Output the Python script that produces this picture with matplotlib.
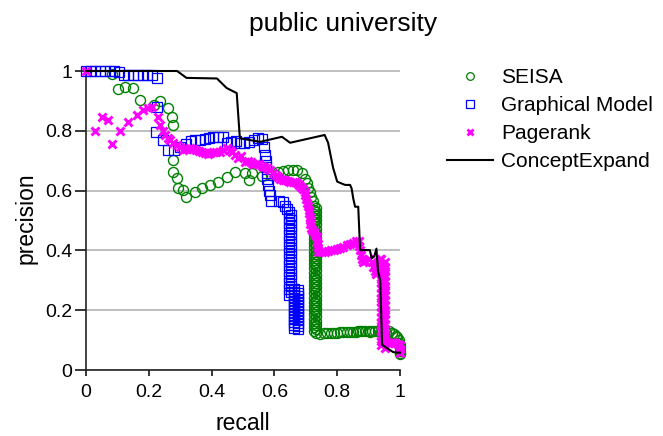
import matplotlib
matplotlib.use("Agg")
import matplotlib.pyplot as plt
from matplotlib.lines import Line2D

plt.rcParams['font.family'] = ['Liberation Sans', 'DejaVu Sans']

# ---------------- data ----------------
seisa_x = [0.082, 0.103, 0.124, 0.151, 0.172, 0.215, 0.236, 0.262, 0.273, 0.278,
           0.278, 0.278, 0.289, 0.294, 0.31, 0.32, 0.347, 0.368, 0.395, 0.421,
           0.448, 0.475, 0.506, 0.52, 0.53, 0.56, 0.59, 0.612, 0.628, 0.643,
           0.658, 0.671, 0.687, 0.698, 0.703, 0.708, 0.713, 0.718, 0.722,
           # dense column
           0.726, 0.731, 0.726, 0.731, 0.726, 0.731, 0.726, 0.731, 0.726, 0.731,
           0.726, 0.731, 0.726, 0.731, 0.726, 0.731, 0.726, 0.731, 0.726, 0.731,
           0.726, 0.731, 0.726, 0.731, 0.726, 0.731, 0.726, 0.731, 0.726, 0.731,
           0.726, 0.731, 0.726, 0.731, 0.726, 0.731, 0.726, 0.731, 0.726, 0.731,
           0.726, 0.731, 0.726, 0.731, 0.726, 0.731, 0.726, 0.731, 0.726, 0.731,
           0.726, 0.731, 0.726, 0.731, 0.726, 0.731, 0.726, 0.731, 0.726, 0.731,
           0.726, 0.731,
           # bottom row
           0.745, 0.757, 0.768, 0.78, 0.79, 0.80, 0.81, 0.82, 0.83, 0.84,
           0.85, 0.86, 0.866, 0.872, 0.88, 0.89, 0.9, 0.906, 0.912, 0.92,
           0.93, 0.94, 0.955, 0.965, 0.975, 0.982, 0.988, 0.992, 0.996, 0.998,
           1.0, 1.0, 1.0, 1.0, 1.0]
seisa_y = [0.99, 0.94, 0.948, 0.942, 0.903, 0.885, 0.898, 0.875, 0.847, 0.82,
           0.702, 0.663, 0.641, 0.608, 0.602, 0.58, 0.596, 0.608, 0.619, 0.63,
           0.647, 0.663, 0.66, 0.635, 0.66, 0.648, 0.652, 0.663, 0.667, 0.668,
           0.669, 0.669, 0.66, 0.64, 0.625, 0.61, 0.595, 0.58, 0.565,
           0.55, 0.543, 0.536, 0.529, 0.522, 0.515, 0.508, 0.501, 0.494, 0.487,
           0.48, 0.473, 0.466, 0.459, 0.452, 0.445, 0.438, 0.431, 0.424, 0.417,
           0.41, 0.403, 0.396, 0.389, 0.382, 0.375, 0.368, 0.361, 0.354, 0.347,
           0.34, 0.333, 0.326, 0.319, 0.312, 0.305, 0.298, 0.291, 0.284, 0.277,
           0.27, 0.263, 0.256, 0.249, 0.242, 0.235, 0.228, 0.221, 0.214, 0.207,
           0.2, 0.193, 0.186, 0.179, 0.172, 0.165, 0.158, 0.151, 0.144, 0.137,
           0.13, 0.124,
           0.122, 0.123, 0.124, 0.124, 0.125, 0.125, 0.126, 0.126, 0.127, 0.127,
           0.128, 0.128, 0.13, 0.129, 0.13, 0.13, 0.13, 0.128, 0.13, 0.13,
           0.13, 0.128, 0.126, 0.13, 0.125, 0.12, 0.115, 0.11, 0.1, 0.09,
           0.085, 0.075, 0.065, 0.058, 0.052]

gm_x = [0.0, 0.015, 0.03, 0.045, 0.06, 0.075, 0.09, 0.105, 0.12, 0.135,
        0.15, 0.165, 0.18, 0.195, 0.21, 0.226, 0.225, 0.222, 0.246, 0.262,
        0.28, 0.30, 0.32, 0.335, 0.347, 0.362, 0.378, 0.392, 0.406, 0.421,
        0.436, 0.448, 0.462, 0.477, 0.49, 0.503, 0.52, 0.535, 0.549, 0.562,
        0.568, 0.57, 0.572, 0.574, 0.576, 0.578, 0.58, 0.583, 0.586, 0.59,
        0.615, 0.628, 0.635, 0.641,
        # upper column
        0.648, 0.652, 0.648, 0.652, 0.648, 0.652, 0.648, 0.652, 0.648, 0.652,
        0.648, 0.652, 0.648, 0.652, 0.648, 0.652, 0.648, 0.652, 0.648, 0.652,
        0.648, 0.652, 0.648, 0.652, 0.648, 0.652, 0.648, 0.652, 0.648,
        # lower column
        0.664, 0.676, 0.664, 0.676, 0.664, 0.676, 0.664, 0.676, 0.664, 0.676,
        0.664, 0.676, 0.664, 0.676, 0.664, 0.676, 0.664, 0.676, 0.664, 0.676,
        0.664, 0.676, 0.664, 0.676, 0.664, 0.676, 0.664, 0.676]
gm_y = [1.0, 1.0, 1.0, 1.0, 1.0, 1.0, 1.0, 0.995, 0.985, 0.985,
        0.985, 0.985, 0.985, 0.985, 0.985, 0.978, 0.88, 0.797, 0.769, 0.736,
        0.735, 0.745, 0.755, 0.765, 0.77, 0.77, 0.772, 0.776, 0.778, 0.78,
        0.778, 0.76, 0.762, 0.765, 0.76, 0.758, 0.764, 0.77, 0.775, 0.772,
        0.745, 0.72, 0.70, 0.68, 0.66, 0.64, 0.62, 0.60, 0.585, 0.565,
        0.565, 0.563, 0.55, 0.54,
        0.53, 0.52, 0.51, 0.50, 0.49, 0.48, 0.47, 0.46, 0.45, 0.44,
        0.43, 0.42, 0.41, 0.40, 0.39, 0.38, 0.37, 0.36, 0.35, 0.34,
        0.33, 0.32, 0.31, 0.30, 0.29, 0.28, 0.27, 0.26, 0.25,
        0.272, 0.267, 0.262, 0.257, 0.252, 0.247, 0.242, 0.237, 0.232, 0.227,
        0.222, 0.217, 0.212, 0.207, 0.202, 0.197, 0.192, 0.187, 0.182, 0.177,
        0.172, 0.167, 0.162, 0.157, 0.152, 0.147, 0.142, 0.138]

pr_x = [0.0, 0.029, 0.05, 0.071, 0.082, 0.108, 0.135, 0.161, 0.183, 0.197,
        0.21, 0.23, 0.236, 0.245, 0.252, 0.26, 0.268, 0.278, 0.289, 0.30,
        0.31, 0.32, 0.33, 0.34, 0.35, 0.36, 0.37, 0.379, 0.388, 0.395,
        0.405, 0.415, 0.427, 0.437, 0.448, 0.458, 0.465, 0.475, 0.485, 0.495,
        0.506, 0.515, 0.525, 0.533, 0.542, 0.55, 0.56, 0.568, 0.575, 0.585,
        0.596, 0.604, 0.612, 0.618, 0.627, 0.635, 0.643, 0.65, 0.658, 0.665,
        0.672, 0.679, 0.686, 0.692, 0.696, 0.699, 0.702, 0.705, 0.707, 0.709,
        0.711, 0.712, 0.712, 0.713, 0.716, 0.72, 0.725, 0.73, 0.735, 0.737,
        0.738, 0.739, 0.74, 0.75, 0.76, 0.77, 0.78, 0.79, 0.80, 0.81,
        0.82, 0.83, 0.84, 0.85, 0.86,
        0.868, 0.87, 0.872, 0.875, 0.878, 0.882, 0.89, 0.9, 0.91, 0.915,
        0.92, 0.925, 0.93, 0.935,
        # column
        0.94, 0.952, 0.94, 0.952, 0.94, 0.952, 0.94, 0.952, 0.94, 0.952,
        0.94, 0.952, 0.94, 0.952, 0.94, 0.952, 0.94, 0.952, 0.94, 0.952,
        0.94, 0.952, 0.94, 0.952, 0.94, 0.952, 0.94, 0.952, 0.94, 0.952,
        0.94, 0.952, 0.94, 0.952, 0.94, 0.952, 0.94, 0.952,
        0.962, 0.974, 0.985, 0.995, 1.0, 1.0, 1.0]
pr_y = [1.0, 0.80, 0.845, 0.835, 0.755, 0.80, 0.83, 0.853, 0.87, 0.875,
        0.878, 0.847, 0.82, 0.80, 0.786, 0.775, 0.769, 0.76, 0.753, 0.745,
        0.736, 0.74, 0.742, 0.738, 0.735, 0.732, 0.728, 0.726, 0.722, 0.726,
        0.728, 0.73, 0.73, 0.735, 0.741, 0.735, 0.73, 0.72, 0.708, 0.715,
        0.697, 0.70, 0.695, 0.69, 0.688, 0.69, 0.682, 0.68, 0.676, 0.668,
        0.66, 0.652, 0.645, 0.638, 0.636, 0.634, 0.632, 0.63, 0.629, 0.628,
        0.626, 0.62, 0.613, 0.605, 0.595, 0.585, 0.572, 0.56, 0.548, 0.536,
        0.525, 0.513, 0.50, 0.488, 0.476, 0.468, 0.46, 0.452, 0.445, 0.432,
        0.42, 0.408, 0.395, 0.393, 0.395, 0.397, 0.40, 0.403, 0.406, 0.409,
        0.413, 0.418, 0.421, 0.425, 0.43,
        0.43, 0.415, 0.40, 0.385, 0.37, 0.36, 0.365, 0.37, 0.36, 0.345,
        0.33, 0.32, 0.35, 0.37,
        0.37, 0.362, 0.354, 0.346, 0.338, 0.33, 0.322, 0.314, 0.306, 0.298,
        0.29, 0.282, 0.274, 0.266, 0.258, 0.25, 0.242, 0.234, 0.226, 0.218,
        0.21, 0.202, 0.194, 0.186, 0.178, 0.17, 0.162, 0.154, 0.146, 0.138,
        0.13, 0.122, 0.114, 0.106, 0.098, 0.09, 0.082, 0.075,
        0.09, 0.095, 0.09, 0.088, 0.085, 0.07, 0.057]

ce_x = [0.0, 0.29, 0.32, 0.417, 0.448, 0.48, 0.49, 0.554, 0.624, 0.65,
        0.76, 0.771, 0.787, 0.80, 0.825, 0.841, 0.846, 0.851, 0.857, 0.867,
        0.873, 0.904, 0.91, 0.918, 0.925, 0.93, 0.937, 0.943, 0.978, 0.99,
        1.0]
ce_y = [1.0, 1.0, 0.977, 0.975, 0.943, 0.926, 0.775, 0.763, 0.78, 0.76,
        0.786, 0.76, 0.676, 0.63, 0.619, 0.619, 0.607, 0.574, 0.546, 0.546,
        0.401, 0.401, 0.373, 0.38, 0.406, 0.33, 0.30, 0.084, 0.06, 0.058,
        0.058]

xticks = [0, 0.2, 0.4, 0.6, 0.8, 1]
xticklabels = ["0", "0.2", "0.4", "0.6", "0.8", "1"]
yticks = [0, 0.2, 0.4, 0.6, 0.8, 1]
yticklabels = ["0", "0.2", "0.4", "0.6", "0.8", "1"]

# ---------------- figure ----------------
fig = plt.figure(figsize=(6.63, 4.36), dpi=100)
ax = fig.add_axes([86 / 663, 66 / 436, 314 / 663, (370 - 71) / 436 * 1.015])

green = '#008000'
blue = '#0000ff'
magenta = '#ff00ff'

ax.plot(seisa_x, seisa_y, linestyle='none', marker='o', ms=7.2, mfc='none',
        mec=green, mew=1.0, clip_on=False, zorder=3)
ax.plot(gm_x, gm_y, linestyle='none', marker='s', ms=6.8, mfc='none',
        mec=blue, mew=0.9, clip_on=False, zorder=4)
ax.plot(pr_x, pr_y, linestyle='none', marker='x', ms=5.2, mec=magenta,
        mew=2.1, clip_on=False, zorder=5)
ax.plot(ce_x, ce_y, color='black', lw=1.5, clip_on=False, zorder=6)

ax.set_xlim(0, 1)
ax.set_ylim(0, 1.015)
ax.set_xticks(xticks)
ax.set_xticklabels(xticklabels)
ax.set_yticks(yticks)
ax.set_yticklabels(yticklabels)
ax.tick_params(axis='both', labelsize=14, colors='black', width=1.1)
ax.tick_params(axis='x', length=4, direction='out', pad=6)
ax.tick_params(axis='y', length=8, direction='out', pad=2)
ax.yaxis.grid(True, color='#b4b4b4', lw=1.2)
ax.set_axisbelow(True)
for s in ['top', 'right']:
    ax.spines[s].set_visible(False)
for s in ['left', 'bottom']:
    ax.spines[s].set_linewidth(1.2)
    ax.spines[s].set_color('#222222')

ax.set_xlabel('recall', fontsize=16.5, labelpad=8)
ax.set_ylabel('precision', fontsize=16.5, labelpad=5)

fig.text(343 / 663, 1 - 24 / 436, 'public university', fontsize=19,
         ha='center', va='center')

handles = [
    Line2D([], [], linestyle='none', marker='o', ms=5.5, mfc='none', mec=green, mew=0.9),
    Line2D([], [], linestyle='none', marker='s', ms=5.5, mfc='none', mec=blue, mew=0.9),
    Line2D([], [], linestyle='none', marker='x', ms=4, mec=magenta, mew=2.0),
    Line2D([], [], color='black', lw=1.5),
]
labels = ['SEISA', 'Graphical Model', 'Pagerank', 'ConceptExpand']
fig.legend(handles, labels, loc='upper left', bbox_to_anchor=(447 / 663, 1 - 68 / 436),
           frameon=False, fontsize=15, handlelength=2.2, handletextpad=0.4,
           labelspacing=0.43, borderpad=0, borderaxespad=0)

fig.savefig('out.png', dpi=100)
